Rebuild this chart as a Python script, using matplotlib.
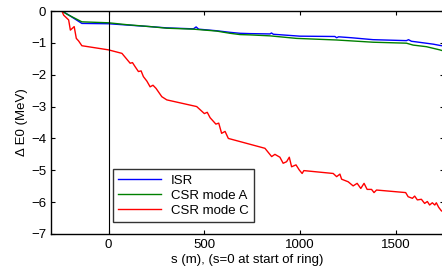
import matplotlib
matplotlib.use("Agg")
import matplotlib.pyplot as plt

plt.rcParams['font.family'] = ['Liberation Sans', 'DejaVu Sans']

# ISR
s_isr = [-243, -217, -139, 0, 96, 217, 304, 443, 457, 470, 564, 634, 686, 738,
         842, 850, 860, 998, 1181, 1190, 1200, 1268, 1380, 1554, 1565, 1580,
         1606, 1693, 1728, 1750]
e_isr = [0, -0.09, -0.39, -0.40, -0.44, -0.49, -0.53, -0.56, -0.50, -0.57,
         -0.62, -0.67, -0.70, -0.71, -0.72, -0.69, -0.73, -0.79, -0.80, -0.84,
         -0.81, -0.84, -0.90, -0.93, -0.90, -0.95, -0.97, -1.04, -1.08, -1.10]

# CSR mode A
s_a = [-243, -217, -139, 0, 96, 217, 304, 443, 564, 634, 686, 738, 842, 981,
       1190, 1380, 1554, 1589, 1658, 1728, 1750]
e_a = [0, -0.10, -0.34, -0.37, -0.43, -0.49, -0.54, -0.57, -0.63, -0.70,
       -0.74, -0.75, -0.78, -0.86, -0.91, -0.98, -1.01, -1.07, -1.12, -1.22,
       -1.26]

# CSR mode C
s_c = [-243, -234, -208, -199, -179, -168, -156, -139, 0, 70, 113, 125, 139,
       156, 170, 182, 200, 217, 232, 248, 278, 304, 460, 500, 515, 530, 560,
       575, 590, 608, 625, 816, 851, 868, 894, 911, 929, 943, 955, 978, 995,
       1010, 1019, 1172, 1190, 1207, 1216, 1250, 1276, 1297, 1316, 1333, 1349,
       1372, 1385, 1398, 1550, 1563, 1585, 1597, 1611, 1632, 1649, 1663, 1675,
       1689, 1702, 1710, 1722, 1736, 1750]
e_c = [0, -0.13, -0.28, -0.60, -0.49, -0.86, -0.94, -1.09, -1.22, -1.33,
       -1.64, -1.62, -1.75, -1.90, -1.88, -2.06, -2.20, -2.38, -2.33, -2.43,
       -2.69, -2.79, -3.00, -3.22, -3.18, -3.35, -3.55, -3.52, -3.84, -3.78,
       -4.00, -4.31, -4.57, -4.50, -4.59, -4.78, -4.73, -4.59, -4.89, -4.83,
       -4.99, -5.10, -5.01, -5.10, -5.20, -5.12, -5.28, -5.36, -5.49, -5.41,
       -5.57, -5.41, -5.60, -5.60, -5.70, -5.62, -5.70, -5.83, -5.88, -5.81,
       -5.93, -5.91, -6.04, -5.98, -6.09, -6.02, -6.09, -6.02, -6.16, -6.27,
       -6.32]

fig = plt.figure(figsize=(4.42, 2.72), dpi=100)
ax = fig.add_axes([51 / 442, 1 - 234 / 272, 393 / 442, 223 / 272])

ax.plot(s_isr, e_isr, color='blue', lw=1, label='ISR')
ax.plot(s_a, e_a, color=(0, 0.5, 0), lw=1, label='CSR mode A')
ax.plot(s_c, e_c, color='red', lw=1, label='CSR mode C')
ax.axvline(0, color='black', lw=0.8)

ax.set_xlim(-300, 1750)
ax.set_ylim(-7, 0)
ax.set_xticks([0, 500, 1000, 1500])
ax.set_yticks(range(-7, 1))
ax.tick_params(direction='in', top=True, right=True, length=3, labelsize=9.5)
for sp in ax.spines.values():
    sp.set_linewidth(1)

ax.set_xlabel('s (m), (s=0 at start of ring)', fontsize=9.5, labelpad=2)
ax.set_ylabel('Δ E0 (MeV)', fontsize=9.5, labelpad=2)

leg = ax.legend(loc='lower left', bbox_to_anchor=(0.158, 0.054),
                borderaxespad=0, fancybox=False, fontsize=9.5,
                handlelength=3.2, labelspacing=0.2, borderpad=0.4)
leg.get_frame().set_edgecolor('black')
leg.get_frame().set_linewidth(1)

fig.savefig('out.png', dpi=100)
